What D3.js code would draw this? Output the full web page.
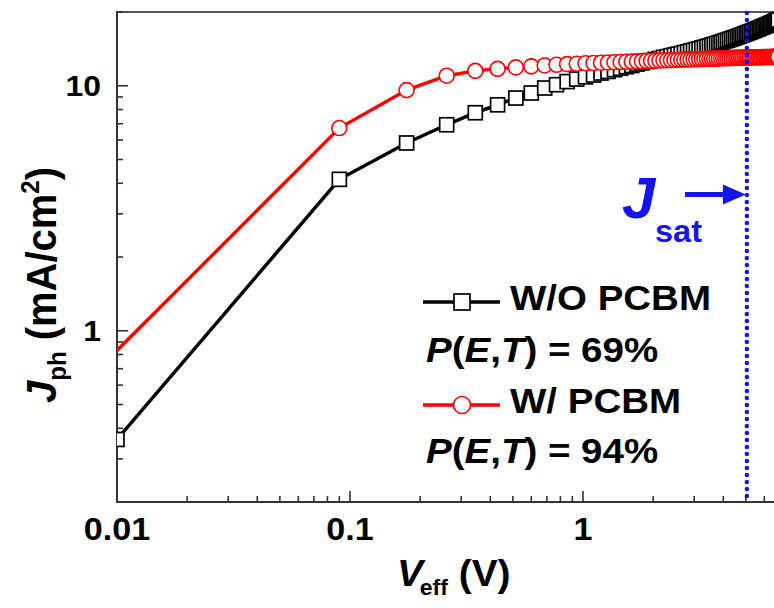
<!DOCTYPE html>
<html>
<head>
<meta charset="utf-8">
<script src="https://cdn.jsdelivr.net/npm/d3@7/dist/d3.min.js"></script>
<style>
  body { margin: 0; background: #fff; }
  text { font-family: "Liberation Sans", Arial, sans-serif; font-weight: bold; }
</style>
</head>
<body>
<svg id="chart" width="774" height="608"></svg>
<script>
// effective voltage (V)
var veff = [
  0.01, 0.09, 0.175, 0.26, 0.345, 0.43, 0.515, 0.6, 0.685, 0.77,
  0.855, 0.94, 1.025, 1.11, 1.195, 1.28, 1.365, 1.45, 1.535, 1.62,
  1.705, 1.79, 1.875, 1.96, 2.045, 2.13, 2.215, 2.3, 2.385, 2.47,
  2.555, 2.64, 2.725, 2.81, 2.895, 2.98, 3.065, 3.15, 3.235, 3.32,
  3.405, 3.49, 3.575, 3.66, 3.745, 3.83, 3.915, 4.0, 4.085, 4.17,
  4.255, 4.34, 4.425, 4.51, 4.595, 4.68, 4.765, 4.85, 4.935, 5.02,
  5.105, 5.19, 5.275, 5.36, 5.445, 5.53, 5.615, 5.7, 5.785, 5.87,
  5.955, 6.04, 6.125, 6.21, 6.295, 6.38, 6.465, 6.55, 6.635, 6.72,
  6.805, 6.89
];
// Jph without PCBM (mA/cm2)
var jWithout = [
  0.36, 4.15, 5.84, 6.93, 7.76, 8.36, 8.91, 9.34, 9.79, 10.1,
  10.4, 10.65, 10.87, 11.06, 11.27, 11.44, 11.63, 11.79, 11.96, 12.1,
  12.26, 12.39, 12.55, 12.67, 12.81, 12.92, 13.05, 13.14, 13.26, 13.35,
  13.46, 13.54, 13.66, 13.75, 13.86, 13.94, 14.06, 14.14, 14.26, 14.35,
  14.46, 14.54, 14.66, 14.75, 14.86, 14.94, 15.06, 15.15, 15.27, 15.34,
  15.46, 15.55, 15.66, 15.74, 15.86, 15.95, 16.07, 16.15, 16.26, 16.35,
  16.47, 16.55, 16.66, 16.74, 16.87, 16.95, 17.06, 17.15, 17.27, 17.35,
  17.46, 17.55, 17.66, 17.74, 17.86, 17.95, 18.06, 18.15, 18.27, 18.35,
  18.46, 18.55
];
// Jph with PCBM (mA/cm2)
var jWith = [
  0.83, 6.72, 9.6, 10.99, 11.5, 11.72, 11.88, 12.0, 12.1, 12.18,
  12.25, 12.3, 12.35, 12.38, 12.42, 12.45, 12.48, 12.5, 12.53, 12.55,
  12.58, 12.6, 12.62, 12.64, 12.66, 12.68, 12.7, 12.71, 12.73, 12.74,
  12.76, 12.77, 12.79, 12.8, 12.81, 12.83, 12.84, 12.85, 12.86, 12.87,
  12.88, 12.89, 12.9, 12.91, 12.92, 12.93, 12.94, 12.95, 12.96, 12.97,
  12.97, 12.98, 12.99, 13.0, 13.0, 13.01, 13.02, 13.02, 13.03, 13.04,
  13.04, 13.05, 13.05, 13.06, 13.06, 13.07, 13.07, 13.08, 13.08, 13.09,
  13.09, 13.1, 13.1, 13.1, 13.11, 13.11, 13.12, 13.12, 13.12, 13.13,
  13.13, 13.14
];
var xLabels = [0.01, 0.1, 1];
var yLabels = [1, 10];
var vSat = 5.05;
var jArrow = 3.6;

var svg = d3.select("#chart");
var mLeft = 117, mTop = 12, mBottom = 502;

var x = d3.scaleLog().domain([0.01, 10]).range([mLeft, 816]);
var y = d3.scaleLog().domain([0.2, 20]).range([mBottom, mTop]);

// frame
var axisColor = "#333";
svg.append("line").attr("x1", mLeft).attr("x2", 774).attr("y1", mTop).attr("y2", mTop)
  .attr("stroke", "#555").attr("stroke-width", 2);
svg.append("line").attr("x1", mLeft).attr("x2", mLeft).attr("y1", mTop - 1).attr("y2", mBottom + 1)
  .attr("stroke", axisColor).attr("stroke-width", 2);
svg.append("line").attr("x1", mLeft).attr("x2", 774).attr("y1", mBottom).attr("y2", mBottom)
  .attr("stroke", axisColor).attr("stroke-width", 2);

// ticks (inward)
x.ticks().forEach(function (t) {
  var major = xLabels.indexOf(t) >= 0 || t == 10;
  if (x(t) > 774) return;
  svg.append("line").attr("x1", x(t)).attr("x2", x(t))
    .attr("y1", mBottom).attr("y2", mBottom - (major ? 11 : 6))
    .attr("stroke", axisColor).attr("stroke-width", 1.6);
});
y.ticks().forEach(function (t) {
  var major = yLabels.indexOf(t) >= 0;
  svg.append("line").attr("x1", mLeft).attr("x2", mLeft + (major ? 11 : 6))
    .attr("y1", y(t)).attr("y2", y(t))
    .attr("stroke", axisColor).attr("stroke-width", 1.6);
});

// tick labels
xLabels.forEach(function (t) {
  svg.append("text").attr("transform", "translate(" + x(t) + ",540) scale(1.1,1)")
    .attr("text-anchor", "middle").style("font-size", "31px").text(t);
});
yLabels.forEach(function (t) {
  svg.append("text").attr("transform", "translate(101," + (y(t) + 10) + ") scale(1.1,1)")
    .attr("text-anchor", "end").style("font-size", "29px").text(t);
});

// axis titles
var xt = svg.append("text").attr("transform", "translate(397,586) scale(1.05,1)")
  .style("font-size", "37px");
xt.append("tspan").style("font-style", "italic").text("V");
xt.append("tspan").attr("dx", -3).attr("dy", 9).style("font-size", "22px").text("eff");
xt.append("tspan").attr("dy", -9).text(" (V)");

var yt = svg.append("text").attr("transform", "translate(56,403) scale(1.08,1) rotate(-90)")
  .style("font-size", "40px");
yt.append("tspan").style("font-style", "italic").text("J");
yt.append("tspan").attr("dy", 9).style("font-size", "24px").text("ph");
yt.append("tspan").attr("dy", -9).text(" (mA/cm");
yt.append("tspan").attr("dy", -16).style("font-size", "24px").text("2");
yt.append("tspan").attr("dy", 16).text(")");

// data
svg.append("clipPath").attr("id", "plotclip").append("rect")
  .attr("x", mLeft).attr("y", mTop).attr("width", 774 - mLeft).attr("height", mBottom - mTop);
var plot = svg.append("g").attr("clip-path", "url(#plotclip)");

var blackPts = veff.map(function (v, i) { return [v, jWithout[i]]; });
var redPts = veff.map(function (v, i) { return [v, jWith[i]]; });
var line = d3.line().x(function (d) { return x(d[0]); }).y(function (d) { return y(d[1]); });

plot.append("path").datum(blackPts).attr("d", line)
  .attr("fill", "none").attr("stroke", "#000").attr("stroke-width", 3.5);
plot.selectAll(".sq").data(blackPts).enter().append("rect")
  .attr("x", function (d) { return x(d[0]) - 7; })
  .attr("y", function (d) { return y(d[1]) - 7; })
  .attr("width", 14).attr("height", 14)
  .attr("fill", "#fff").attr("stroke", "#000").attr("stroke-width", 1.7);

plot.append("path").datum(redPts).attr("d", line)
  .attr("fill", "none").attr("stroke", "#f00").attr("stroke-width", 3.5);
plot.selectAll(".ci").data(redPts.slice(1)).enter().append("circle")
  .attr("cx", function (d) { return x(d[0]); })
  .attr("cy", function (d) { return y(d[1]); })
  .attr("r", 7.5)
  .attr("fill", "#fff").attr("stroke", "#f00").attr("stroke-width", 1.6);

// Jsat marker
var blue = "#1414f0";
svg.append("line").attr("x1", x(vSat)).attr("x2", x(vSat)).attr("y1", mTop + 1).attr("y2", mBottom)
  .attr("stroke", blue).attr("stroke-width", 4.5).attr("stroke-linecap", "round")
  .attr("stroke-dasharray", "0,7");
var ay = y(jArrow);
svg.append("line").attr("x1", 685).attr("x2", x(vSat) - 20).attr("y1", ay).attr("y2", ay)
  .attr("stroke", blue).attr("stroke-width", 5);
svg.append("path")
  .attr("d", "M" + (x(vSat) - 24) + "," + (ay - 10) + "L" + (x(vSat) - 1) + "," + ay +
    "L" + (x(vSat) - 24) + "," + (ay + 10) + "Z")
  .attr("fill", blue);
svg.append("text").attr("transform", "translate(622,218) scale(1.05,1)")
  .style("font-size", "57px").style("font-style", "italic").attr("fill", blue).text("J");
svg.append("text").attr("transform", "translate(655,242) scale(1.05,1)")
  .style("font-size", "31px").attr("fill", blue).text("sat");

// legend
function legendText(xp, yp, parts) {
  var t = svg.append("text").attr("transform", "translate(" + xp + "," + yp + ") scale(1.1,1)")
    .style("font-size", "35px");
  parts.forEach(function (p) {
    t.append("tspan").style("font-style", p[1] ? "italic" : "normal").text(p[0]);
  });
}
svg.append("line").attr("x1", 423).attr("x2", 500).attr("y1", 302).attr("y2", 302)
  .attr("stroke", "#000").attr("stroke-width", 3.5);
svg.append("rect").attr("x", 454).attr("y", 294).attr("width", 16).attr("height", 16)
  .attr("fill", "#fff").attr("stroke", "#000").attr("stroke-width", 1.7);
legendText(510, 310, [["W/O PCBM", false]]);
legendText(426, 362, [["P", true], ["(", false], ["E", true], [",", false], ["T", true], [") = 69%", false]]);

svg.append("line").attr("x1", 423).attr("x2", 500).attr("y1", 405).attr("y2", 405)
  .attr("stroke", "#f00").attr("stroke-width", 3.5);
svg.append("circle").attr("cx", 462).attr("cy", 405).attr("r", 8.5)
  .attr("fill", "#fff").attr("stroke", "#f00").attr("stroke-width", 1.6);
legendText(510, 413, [["W/ PCBM", false]]);
legendText(426, 463, [["P", true], ["(", false], ["E", true], [",", false], ["T", true], [") = 94%", false]]);
</script>
</body>
</html>
